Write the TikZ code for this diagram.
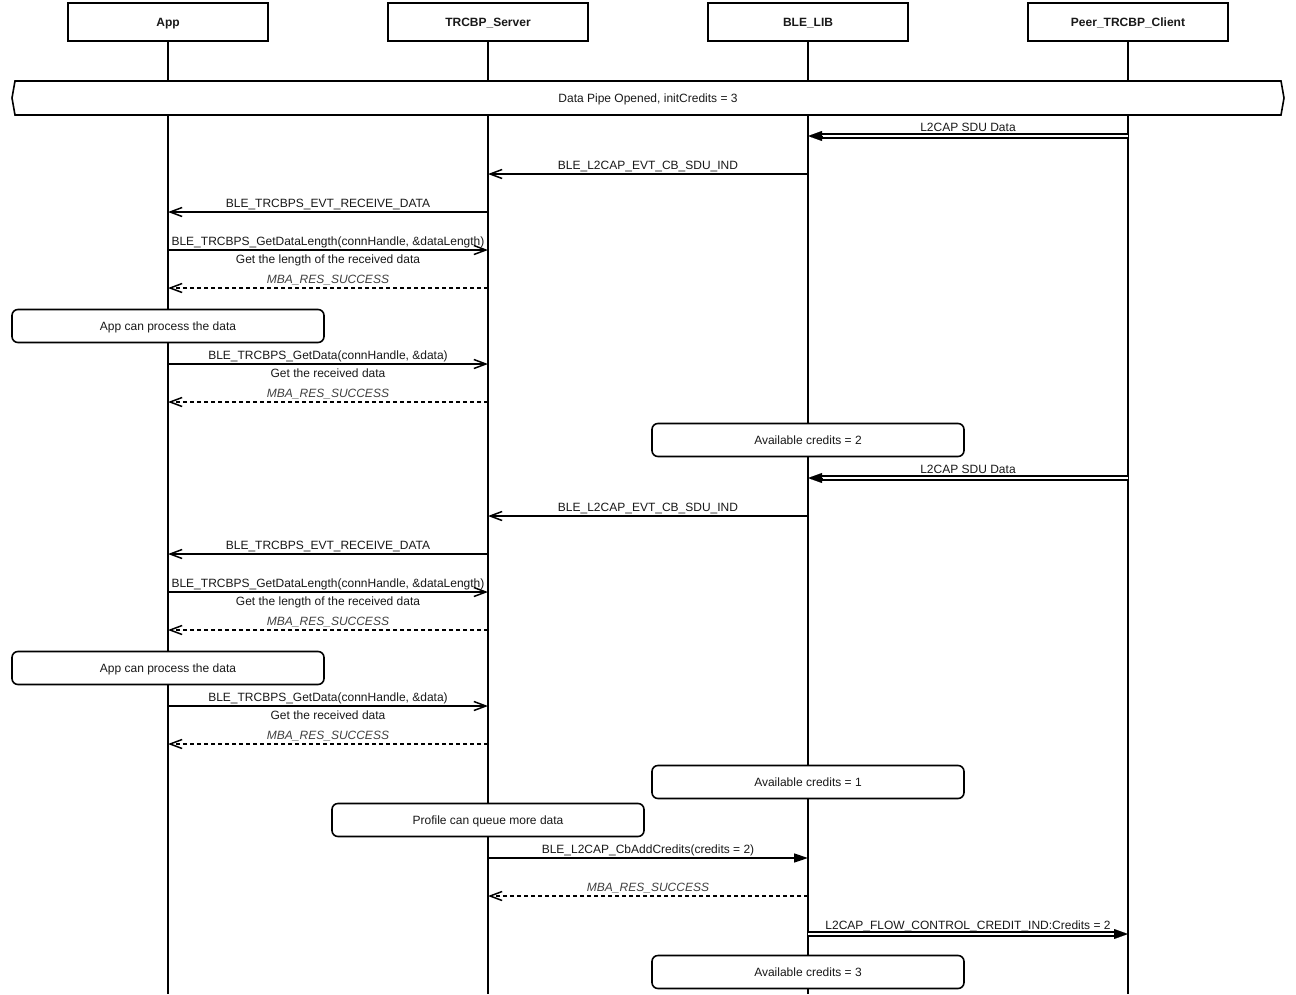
\documentclass[tikz,border=0pt]{standalone}
\usepackage{fontspec}
\setmainfont{Liberation Sans}
\usetikzlibrary{arrows.meta}
\begin{document}
\begin{tikzpicture}[x=1pt,y=1pt,
  every node/.style={font=\fontsize{12}{14}\selectfont, text=black!90, text height=8.7pt, text depth=0.5pt},
  actor/.style={draw, line width=1.6pt, minimum width=200pt, minimum height=38pt, inner sep=0pt, font=\fontsize{12}{14}\selectfont\bfseries},
  note/.style={draw, fill=white, rounded corners=6pt, line width=1.6pt, minimum width=312pt, minimum height=33pt, inner sep=0pt},
  life/.style={line width=1.6pt},
  msg/.style={line width=1.6pt, -{Straight Barb[length=12pt,width=9pt,line width=1.5pt]}},
  ret/.style={msg, dash pattern=on 4pt off 3pt},
  call/.style={line width=1.6pt, -{Triangle[length=14pt,width=9pt]}},
  dbl/.style={double, double distance=2.6pt, line width=1.4pt, shorten >=12pt},
  tipf/.style={line width=0.1pt, -{Triangle[length=14pt,width=10pt]}},
  lbl/.style={midway, yshift=8.5pt, inner sep=0pt},
  sub/.style={midway, yshift=-9.5pt, inner sep=0pt},
  it/.style={font=\fontsize{12}{14}\selectfont\itshape, text=black!75}]
\useasboundingbox[fill=white] (0,0) rectangle (1296,-994);

% actors
\node[actor] (app)  at (168,-22)  {App};
\node[actor] (srv)  at (488,-22)  {TRCBP\_Server};
\node[actor] (lib)  at (808,-22)  {BLE\_LIB};
\node[actor] (peer) at (1128,-22) {Peer\_TRCBP\_Client};

% lifelines
\foreach \a in {app,srv,lib,peer}
  \draw[life] (\a.south) -- (\a.south |- 0,-994);

% data pipe
\draw[line width=1.6pt, fill=white] (15,-81) -- (1281,-81) -- (1284,-98) -- (1281,-115) -- (15,-115) -- (12,-98) -- cycle;
\node (pipe) at (648,-98) {Data Pipe Opened, initCredits = 3};

% first round
\draw[dbl] (peer |- 0,-136) -- (lib |- 0,-136) node[lbl] {L2CAP SDU Data};
\draw[tipf] (lib |- 0,-136) ++(14,0) -- (lib |- 0,-136);
\draw[msg] (lib |- 0,-174) -- (srv |- 0,-174) node[lbl] {BLE\_L2CAP\_EVT\_CB\_SDU\_IND};
\draw[msg] (srv |- 0,-212) -- (app |- 0,-212) node[lbl] {BLE\_TRCBPS\_EVT\_RECEIVE\_DATA};
\draw[msg] (app |- 0,-250) -- (srv |- 0,-250) node[lbl] {BLE\_TRCBPS\_GetDataLength(connHandle, \&dataLength)} node[sub] {Get the length of the received data};
\draw[ret] (srv |- 0,-288) -- (app |- 0,-288) node[lbl, it] {MBA\_RES\_SUCCESS};
\node[note] (n1) at (168,-326) {App can process the data};
\draw[msg] (app |- 0,-364) -- (srv |- 0,-364) node[lbl] {BLE\_TRCBPS\_GetData(connHandle, \&data)} node[sub] {Get the received data};
\draw[ret] (srv |- 0,-402) -- (app |- 0,-402) node[lbl, it] {MBA\_RES\_SUCCESS};
\node[note] (n2) at (808,-440) {Available credits = 2};

% second round
\draw[dbl] (peer |- 0,-478) -- (lib |- 0,-478) node[lbl] {L2CAP SDU Data};
\draw[tipf] (lib |- 0,-478) ++(14,0) -- (lib |- 0,-478);
\draw[msg] (lib |- 0,-516) -- (srv |- 0,-516) node[lbl] {BLE\_L2CAP\_EVT\_CB\_SDU\_IND};
\draw[msg] (srv |- 0,-554) -- (app |- 0,-554) node[lbl] {BLE\_TRCBPS\_EVT\_RECEIVE\_DATA};
\draw[msg] (app |- 0,-592) -- (srv |- 0,-592) node[lbl] {BLE\_TRCBPS\_GetDataLength(connHandle, \&dataLength)} node[sub] {Get the length of the received data};
\draw[ret] (srv |- 0,-630) -- (app |- 0,-630) node[lbl, it] {MBA\_RES\_SUCCESS};
\node[note] (n3) at (168,-668) {App can process the data};
\draw[msg] (app |- 0,-706) -- (srv |- 0,-706) node[lbl] {BLE\_TRCBPS\_GetData(connHandle, \&data)} node[sub] {Get the received data};
\draw[ret] (srv |- 0,-744) -- (app |- 0,-744) node[lbl, it] {MBA\_RES\_SUCCESS};
\node[note] (n4) at (808,-782) {Available credits = 1};
\node[note] (n5) at (488,-820) {Profile can queue more data};

% credits
\draw[call] (srv |- 0,-858) -- (lib |- 0,-858) node[lbl] {BLE\_L2CAP\_CbAddCredits(credits = 2)};
\draw[ret] (lib |- 0,-896) -- (srv |- 0,-896) node[lbl, it] {MBA\_RES\_SUCCESS};
\draw[dbl] (lib |- 0,-934) -- (peer |- 0,-934) node[lbl] {L2CAP\_FLOW\_CONTROL\_CREDIT\_IND:Credits = 2};
\draw[tipf] (peer |- 0,-934) ++(-14,0) -- (peer |- 0,-934);
\node[note] (n6) at (808,-972) {Available credits = 3};
\end{tikzpicture}
\end{document}
